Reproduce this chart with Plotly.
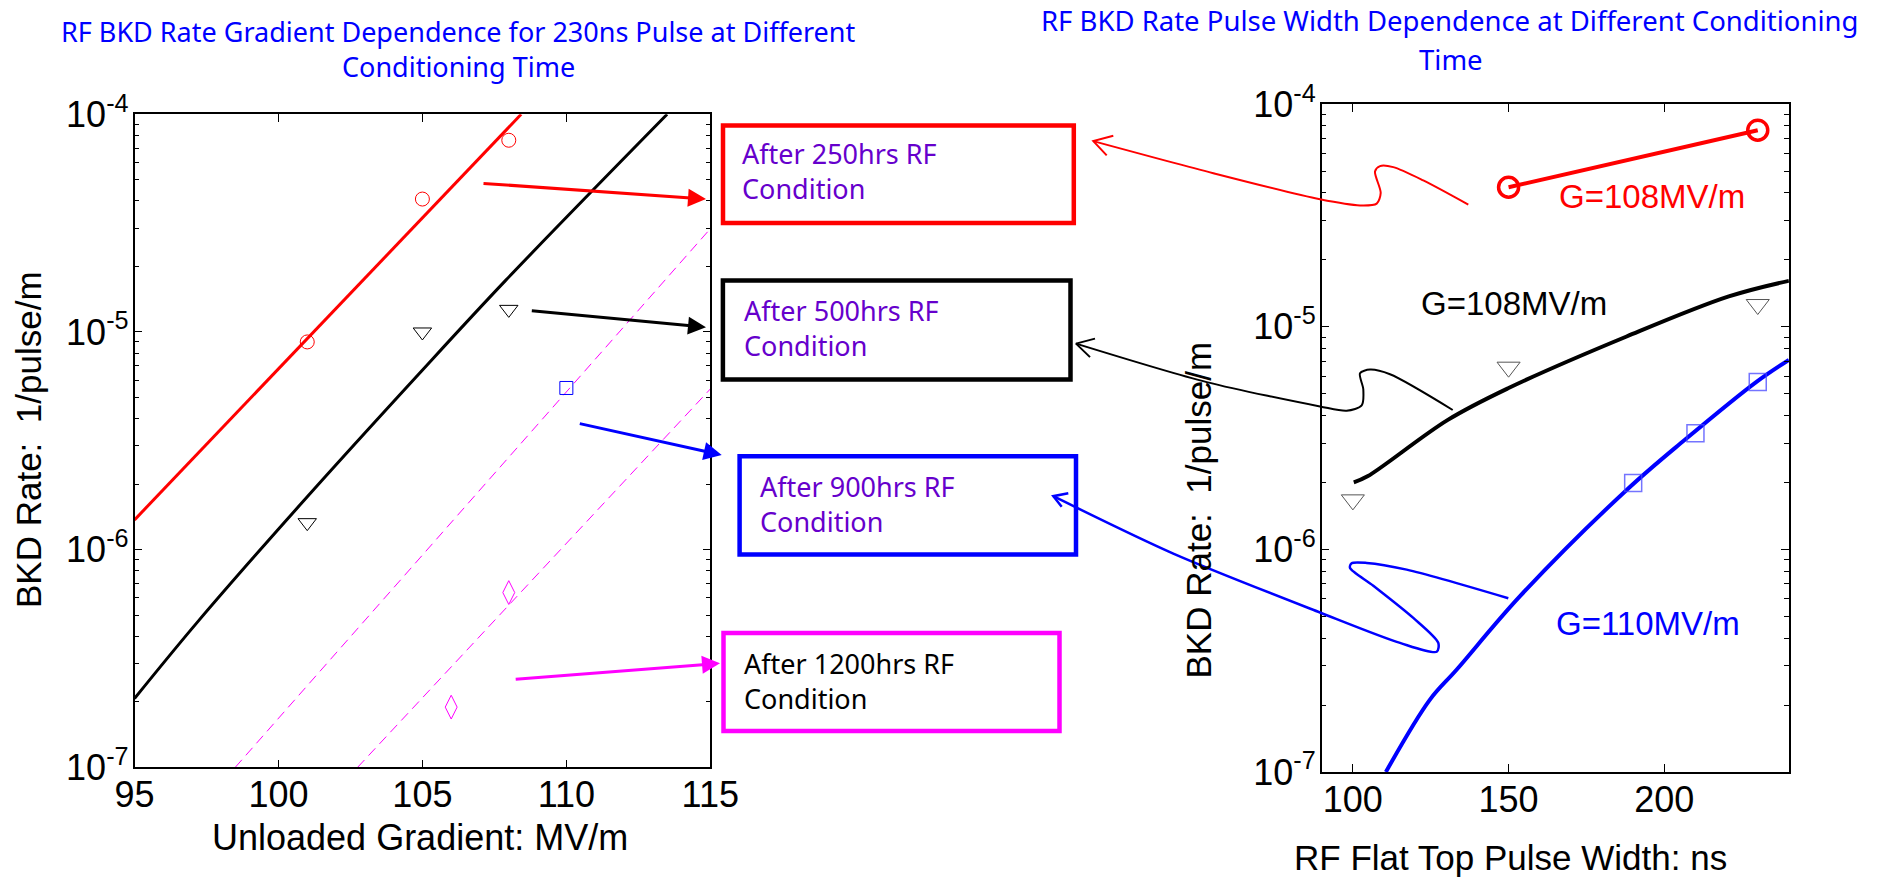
import plotly.graph_objects as go

# ---------------- data ----------------
# Left panel: breakdown rate vs unloaded gradient, 230 ns pulse
g250_pts = [101, 105, 108]
r250_pts = [9.0e-6, 4.08e-5, 7.6e-5]
g500_pts = [101, 105, 108]
r500_pts = [1.33e-6, 1.0e-5, 1.27e-5]
g900_pts = [110]
r900_pts = [5.53e-6]
g1200_pts = [106, 108]
r1200_pts = [1.89e-7, 6.35e-7]

g250_fit = [95, 101, 108.43]
r250_fit = [1.37e-6, 9.3e-6, 1.0e-4]
g500_fit = [95, 97.2, 100.9, 104.9, 107.9, 113.5]
r500_fit = [2.07e-7, 4.67e-7, 1.69e-6, 6.46e-6, 1.73e-5, 1.0e-4]
g_dash_a = [98.5, 115]
r_dash_a = [1.0e-7, 2.98e-5]
g_dash_b = [102.75, 115]
r_dash_b = [1.0e-7, 5.47e-6]

# Right panel: breakdown rate vs flat-top pulse width
pw_red = [150, 230]
r_red = [4.24e-5, 7.65e-5]
pw_tri = [100, 150, 230]
r_tri = [1.67e-6, 6.59e-6, 1.26e-5]
pw_sq = [190, 210, 230]
r_sq = [1.99e-6, 3.33e-6, 5.65e-6]
pw_black_fit = [100.3, 104.7, 130.5, 150, 187.9, 220.7, 240]
r_black_fit = [2.0e-6, 2.13e-6, 3.82e-6, 5.31e-6, 9.05e-6, 1.37e-5, 1.61e-5]
pw_blue_fit = [110.6, 124.7, 133.3, 153.6, 187.9, 206.6, 229.7, 240]
r_blue_fit = [1.0e-7, 2.11e-7, 2.88e-7, 6.15e-7, 1.85e-6, 3.11e-6, 5.68e-6, 7.11e-6]

decades = [1e-7, 1e-6, 1e-5, 1e-4]
decade_text = ["10<sup>-7</sup>", "10<sup>-6</sup>", "10<sup>-5</sup>", "10<sup>-4</sup>"]
minor_vals = [k * d for d in decades[:-1] for k in range(2, 10)]

left_xticks = [95, 100, 105, 110, 115]
right_xticks = [100, 150, 200]

# ---------------- layout geometry (pixels) ----------------
W, H = 1881, 880
LEFT_BOX = (134.5, 710.3, 114.3, 767.3)     # x0, x1, ytop, ybottom
RIGHT_BOX = (1321.7, 1788.9, 104.3, 772.0)

# Curved pointer lines (from arrow tip outward), pixel coordinates
red_curve = [(1093.3, 141.1), (1213.3, 173.2), (1320, 199.3), (1360, 205.4), (1376.7, 203.6),
             (1380.7, 192.9), (1375, 171.4), (1380, 166.1), (1393.3, 167.1), (1423.3, 180.4),
             (1468.3, 204.6)]
red_head = [(1113.3, 135.7), (1093.3, 141.1), (1106.7, 155.4)]
black_curve = [(1076, 343.6), (1206.7, 382.1), (1320, 406.4), (1346.7, 410.7), (1361.7, 405.4),
               (1363.3, 389.3), (1360, 373.2), (1370, 369.6), (1390, 374.3), (1452.7, 410)]
black_head = [(1095, 338.6), (1076, 343.6), (1090, 357.1)]
blue_curve = [(1053.3, 496.2), (1173.3, 553.6), (1320, 612.5), (1400, 642.9), (1436.7, 651.8),
              (1438.3, 642.9), (1413.3, 617.9), (1373.3, 585.7), (1350, 567.9), (1351.7, 563.2),
              (1366.7, 562.9), (1406.7, 569.6), (1508.3, 598.2)]
blue_head = [(1068.3, 493.3), (1053.3, 496.2), (1061.7, 506.7)]

# straight pointers: (tail x, tail y, tip x, tip y, colour)
straight_arrows = [
    (482, 183.3, 706, 199, "#FF0000"),
    (530.3, 310.7, 706, 327.3, "#000000"),
    (578.3, 423.3, 721.7, 455, "#0000FF"),
    (514.2, 679.3, 720, 663.3, "#FF00FF"),
]

# label boxes: (x0, y0, x1, y1, edge colour, text, text colour, text x, text y)
boxes = [
    (723, 125.5, 1073.8, 223, "#FF0000", "After 250hrs RF<br>Condition", "#6600CC", 740, 171),
    (722.9, 280.5, 1070.5, 379.5, "#000000", "After 500hrs RF<br>Condition", "#6600CC", 741.7, 327.5),
    (739.6, 456.3, 1076, 554.4, "#0000FF", "After 900hrs RF<br>Condition", "#6600CC", 758.3, 504),
    (723.5, 632.9, 1059.5, 731.1, "#FF00FF", "After 1200hrs RF<br>Condition", "#000000", 741.7, 681),
]

SANS = "Liberation Sans, Arial, sans-serif"
LABEL_FONT = "Noto Sans, sans-serif"

fig = go.Figure()

# ---- left panel ----
fig.add_trace(go.Scatter(x=g250_fit, y=r250_fit, mode="lines",
                         line=dict(color="#FF0000", width=3), xaxis="x", yaxis="y"))
fig.add_trace(go.Scatter(x=g500_fit, y=r500_fit, mode="lines", line_shape="spline",
                         line=dict(color="#000000", width=3), xaxis="x", yaxis="y"))
for gx, ry in ((g_dash_a, r_dash_a), (g_dash_b, r_dash_b)):
    fig.add_trace(go.Scatter(x=gx, y=ry, mode="lines",
                             line=dict(color="#FF00FF", width=1, dash="10px,6px"),
                             xaxis="x", yaxis="y"))
fig.add_trace(go.Scatter(x=g250_pts, y=r250_pts, mode="markers",
                         marker=dict(symbol="circle-open", size=14, color="#FF0000",
                                     line=dict(width=1)), xaxis="x", yaxis="y"))
fig.add_trace(go.Scatter(x=g500_pts, y=r500_pts, mode="markers",
                         marker=dict(symbol="triangle-down-open", size=16, color="#000000",
                                     line=dict(width=1)), xaxis="x", yaxis="y"))
fig.add_trace(go.Scatter(x=g900_pts, y=r900_pts, mode="markers",
                         marker=dict(symbol="square-open", size=13, color="#0000FF",
                                     line=dict(width=1)), xaxis="x", yaxis="y"))
fig.add_trace(go.Scatter(x=g1200_pts, y=r1200_pts, mode="markers",
                         marker=dict(symbol="diamond-tall-open", size=17, color="#FF00FF",
                                     line=dict(width=1)), xaxis="x", yaxis="y"))

# ---- right panel ----
fig.add_trace(go.Scatter(x=pw_black_fit, y=r_black_fit, mode="lines", line_shape="spline",
                         line=dict(color="#000000", width=4), xaxis="x2", yaxis="y2"))
fig.add_trace(go.Scatter(x=pw_blue_fit, y=r_blue_fit, mode="lines", line_shape="spline",
                         line=dict(color="#0000FF", width=4), xaxis="x2", yaxis="y2"))
fig.add_trace(go.Scatter(x=pw_red, y=r_red, mode="lines+markers",
                         line=dict(color="#FF0000", width=4),
                         marker=dict(symbol="circle-open", size=20, color="#FF0000",
                                     line=dict(width=3.5)), xaxis="x2", yaxis="y2"))
fig.add_trace(go.Scatter(x=pw_tri, y=r_tri, mode="markers",
                         marker=dict(symbol="triangle-down-open", size=20, color="#555555",
                                     line=dict(width=1)), xaxis="x2", yaxis="y2"))
fig.add_trace(go.Scatter(x=pw_sq, y=r_sq, mode="markers",
                         marker=dict(symbol="square-open", size=17, color="rgba(70,70,255,0.75)",
                                     line=dict(width=1.5)), xaxis="x2", yaxis="y2"))

# ---- curved pointers on a full-page pixel layer ----
for pts, head, col, wdt in ((red_curve, red_head, "#FF0000", 2),
                            (black_curve, black_head, "#000000", 2),
                            (blue_curve, blue_head, "#0000FF", 2.5)):
    fig.add_trace(go.Scatter(x=[p[0] for p in pts], y=[p[1] for p in pts], mode="lines",
                             line=dict(color=col, width=wdt, shape="spline", smoothing=0.8),
                             xaxis="x3", yaxis="y3"))
    fig.add_trace(go.Scatter(x=[p[0] for p in head], y=[p[1] for p in head], mode="lines",
                             line=dict(color=col, width=wdt), xaxis="x3", yaxis="y3"))

fig.update_traces(showlegend=False, hoverinfo="skip")


def frame(domain_x, anchor):
    return dict(domain=domain_x, anchor=anchor, showline=True, linecolor="black", linewidth=1.5,
                mirror="allticks", ticks="inside", ticklen=8, tickcolor="black",
                showgrid=False, zeroline=False, ticklabelstandoff=-5, automargin=False,
                tickfont=dict(family=SANS, size=36, color="black"))


lx = [LEFT_BOX[0] / W, LEFT_BOX[1] / W]
ly = [1 - LEFT_BOX[3] / H, 1 - LEFT_BOX[2] / H]
rx = [RIGHT_BOX[0] / W, RIGHT_BOX[1] / W]
ry = [1 - RIGHT_BOX[3] / H, 1 - RIGHT_BOX[2] / H]

xa = frame(lx, "y")
xa.update(range=[95, 115], tickmode="array", tickvals=left_xticks)
ya = frame(ly, "x")
ya.update(type="log", range=[-7, -4], tickmode="array", tickvals=decades,
          ticktext=decade_text, ticklabelstandoff=-3,
          minor=dict(tickmode="array", tickvals=minor_vals, ticks="inside", ticklen=5,
                     tickcolor="black"))
xa2 = frame(rx, "y2")
xa2.update(range=[90, 240], tickmode="array", tickvals=right_xticks)
ya2 = frame(ry, "x2")
ya2.update(type="log", range=[-7, -4], tickmode="array", tickvals=decades,
           ticktext=decade_text, ticklabelstandoff=-3,
           minor=dict(tickmode="array", tickvals=minor_vals, ticks="inside", ticklen=5,
                      tickcolor="black"))

annotations = []
shapes = []

# axis titles
annotations += [
    dict(x=420, y=837, text="Unloaded Gradient: MV/m", font=dict(family=SANS, size=36)),
    dict(x=1510.8, y=857, text="RF Flat Top Pulse Width: ns", font=dict(family=SANS, size=35)),
    dict(x=28, y=440, text="BKD Rate:\u00a0 1/pulse/m", textangle=-90, font=dict(family=SANS, size=35)),
    dict(x=1197.5, y=510, text="BKD Rate:\u00a0 1/pulse/m", textangle=-90, font=dict(family=SANS, size=35)),
]
# panel titles
annotations += [
    dict(x=458, y=31, text="RF BKD Rate Gradient Dependence for 230ns Pulse at Different",
         font=dict(family=LABEL_FONT, size=27, color="#0000FF")),
    dict(x=458, y=66, text="Conditioning Time", font=dict(family=LABEL_FONT, size=27, color="#0000FF")),
    dict(x=1449, y=20, text="RF BKD Rate Pulse Width Dependence at Different Conditioning",
         font=dict(family=LABEL_FONT, size=27.5, color="#0000FF")),
    dict(x=1451, y=59, text="Time", font=dict(family=LABEL_FONT, size=27.5, color="#0000FF")),
]
# gradient labels in right panel
annotations += [
    dict(x=1652, y=196, text="G=108MV/m", font=dict(family=SANS, size=33, color="#FF0000")),
    dict(x=1513.6, y=303.3, text="G=108MV/m", font=dict(family=SANS, size=33, color="#000000")),
    dict(x=1647.7, y=623.3, text="G=110MV/m", font=dict(family=SANS, size=33, color="#0000FF")),
]
for a in annotations:
    a.update(xref="x3", yref="y3", showarrow=False, xanchor="center", yanchor="middle")
    a["font"].setdefault("color", "black")

# condition boxes
for x0, y0, x1, y1, ec, txt, tc, tx, ty in boxes:
    shapes.append(dict(type="rect", xref="x3", yref="y3", x0=x0, y0=y0, x1=x1, y1=y1,
                       line=dict(color=ec, width=4.5), fillcolor="rgba(0,0,0,0)"))
    annotations.append(dict(xref="x3", yref="y3", x=tx, y=ty, text=txt, showarrow=False,
                            xanchor="left", yanchor="middle", align="left",
                            font=dict(family=LABEL_FONT, size=27, color=tc)))

# straight pointers
for x0, y0, x1, y1, col in straight_arrows:
    annotations.append(dict(xref="x3", yref="y3", axref="x3", ayref="y3", x=x1, y=y1, ax=x0, ay=y0,
                            text="", showarrow=True, arrowhead=2, arrowsize=1.2, arrowwidth=3,
                            arrowcolor=col, standoff=0, startstandoff=0))

fig.update_layout(
    width=W, height=H, margin=dict(l=0, r=0, t=0, b=0, pad=0, autoexpand=False),
    paper_bgcolor="white", plot_bgcolor="rgba(0,0,0,0)",
    xaxis=xa, yaxis=ya, xaxis2=xa2, yaxis2=ya2,
    xaxis3=dict(domain=[0, 1], anchor="y3", range=[0, W], visible=False, fixedrange=True,
                automargin=False),
    yaxis3=dict(domain=[0, 1], anchor="x3", range=[H, 0], visible=False, fixedrange=True,
                automargin=False),
    annotations=annotations, shapes=shapes, showlegend=False,
)

fig.write_html("out.html")
